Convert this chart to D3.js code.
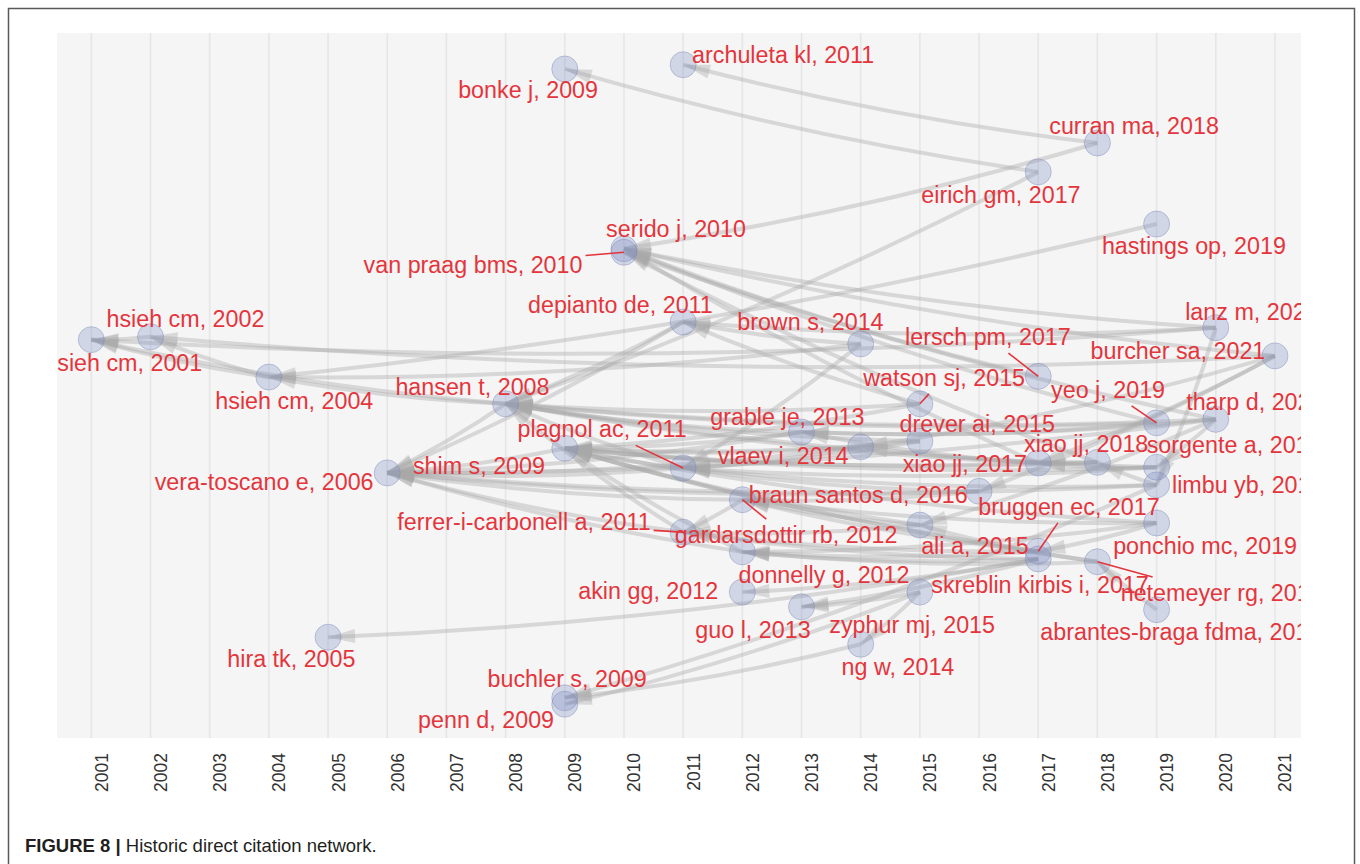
<!DOCTYPE html>
<html>
<head>
<meta charset="utf-8">
<script src="https://cdn.jsdelivr.net/npm/d3@7"></script>
<style>
  body { margin: 0; background: #fff; }
  svg { display: block; font-family: "Liberation Sans", Arial, sans-serif; }
</style>
</head>
<body>
<script>
// Papers in the historiograph (label carries the year)
var papers = [
  "hsieh cm, 2001", "hsieh cm, 2002", "hsieh cm, 2004", "hira tk, 2005", "vera-toscano e, 2006",
  "hansen t, 2008", "bonke j, 2009", "shim s, 2009", "buchler s, 2009", "penn d, 2009",
  "serido j, 2010", "van praag bms, 2010", "archuleta kl, 2011", "depianto de, 2011", "plagnol ac, 2011",
  "ferrer-i-carbonell a, 2011", "gardarsdottir rb, 2012", "donnelly g, 2012", "akin gg, 2012", "grable je, 2013",
  "guo l, 2013", "brown s, 2014", "vlaev i, 2014", "ng w, 2014", "watson sj, 2015",
  "drever ai, 2015", "ali a, 2015", "zyphur mj, 2015", "braun santos d, 2016", "eirich gm, 2017",
  "lersch pm, 2017", "xiao jj, 2017", "bruggen ec, 2017", "skreblin kirbis i, 2017", "curran ma, 2018",
  "xiao jj, 2018", "netemeyer rg, 2018", "hastings op, 2019", "yeo j, 2019", "sorgente a, 2019",
  "limbu yb, 2019", "ponchio mc, 2019", "abrantes-braga fdma, 2019", "lanz m, 2020", "tharp d, 2020",
  "burcher sa, 2021"
];

// Vertical layout coordinate of each paper (0 = bottom, 100 = top)
var layoutY = [
  56.5, 56.9, 51.2, 14.3, 37.6,
  47.4, 94.9, 41.1, 5.7, 4.8,
  69.4, 68.9, 95.5, 59.0, 38.3,
  29.2, 33.8, 26.4, 20.7, 43.4,
  18.6, 55.9, 41.3, 13.3, 47.4,
  42.1, 30.2, 20.7, 35.0, 80.3,
  51.3, 39.0, 26.5, 25.4, 84.4,
  39.1, 25.0, 72.9, 44.7, 38.4,
  35.9, 30.5, 18.2, 58.2, 45.2,
  54.2
];

// Where each (repelled) label sits: year axis and layout coordinate
var labelX = [
  2001.54, 2002.59, 2004.43, 2004.38, 2003.92,
  2007.44, 2008.38, 2007.55, 2009.04, 2007.67,
  2010.88, 2007.45, 2012.69, 2009.94, 2009.63,
  2008.31, 2012.74, 2013.38, 2010.41, 2012.76,
  2012.18, 2013.15, 2012.69, 2014.63, 2015.41,
  2015.97, 2015.93, 2014.87, 2013.96, 2016.37,
  2016.15, 2015.76, 2017.52, 2017.03, 2018.62,
  2017.81, 2020.10, 2019.63, 2018.18, 2020.31,
  2020.54, 2019.82, 2019.41, 2020.61, 2020.66,
  2019.36
];
var labelY = [
  53.2, 59.4, 47.8, 11.2, 36.3,
  49.8, 91.9, 38.6, 8.4, 2.6,
  72.2, 67.1, 96.9, 61.4, 43.8,
  30.6, 28.8, 23.1, 20.9, 45.5,
  15.3, 59.1, 40.0, 10.1, 51.1,
  44.5, 27.2, 16.0, 34.5, 77.0,
  56.9, 38.9, 32.8, 21.7, 86.9,
  41.7, 20.6, 69.8, 49.4, 41.6,
  35.9, 27.2, 15.0, 60.4, 47.7,
  54.9
];

// Labels pushed far enough from their node to get a connector
var withLeader = [
  "van praag bms, 2010", "lersch pm, 2017", "watson sj, 2015", "yeo j, 2019", "plagnol ac, 2011",
  "ferrer-i-carbonell a, 2011", "gardarsdottir rb, 2012", "bruggen ec, 2017", "netemeyer rg, 2018"
];

// Direct citations: [citing, cited]
var citations = [
  ["hsieh cm, 2002", "hsieh cm, 2001"],
  ["hsieh cm, 2004", "hsieh cm, 2001"],
  ["hsieh cm, 2004", "hsieh cm, 2002"],
  ["hansen t, 2008", "hsieh cm, 2001"],
  ["hansen t, 2008", "hsieh cm, 2004"],
  ["hansen t, 2008", "vera-toscano e, 2006"],
  ["burcher sa, 2021", "hsieh cm, 2002"],
  ["lanz m, 2020", "hsieh cm, 2001"],
  ["brown s, 2014", "hsieh cm, 2004"],
  ["hastings op, 2019", "hsieh cm, 2004"],
  ["eirich gm, 2017", "bonke j, 2009"],
  ["eirich gm, 2017", "hansen t, 2008"],
  ["curran ma, 2018", "archuleta kl, 2011"],
  ["curran ma, 2018", "serido j, 2010"],
  ["lanz m, 2020", "serido j, 2010"],
  ["burcher sa, 2021", "serido j, 2010"],
  ["lersch pm, 2017", "serido j, 2010"],
  ["yeo j, 2019", "serido j, 2010"],
  ["xiao jj, 2018", "van praag bms, 2010"],
  ["tharp d, 2020", "van praag bms, 2010"],
  ["brown s, 2014", "depianto de, 2011"],
  ["lanz m, 2020", "depianto de, 2011"],
  ["watson sj, 2015", "depianto de, 2011"],
  ["depianto de, 2011", "vera-toscano e, 2006"],
  ["depianto de, 2011", "hansen t, 2008"],
  ["shim s, 2009", "vera-toscano e, 2006"],
  ["plagnol ac, 2011", "vera-toscano e, 2006"],
  ["plagnol ac, 2011", "hansen t, 2008"],
  ["plagnol ac, 2011", "shim s, 2009"],
  ["ferrer-i-carbonell a, 2011", "vera-toscano e, 2006"],
  ["ferrer-i-carbonell a, 2011", "hansen t, 2008"],
  ["gardarsdottir rb, 2012", "vera-toscano e, 2006"],
  ["gardarsdottir rb, 2012", "ferrer-i-carbonell a, 2011"],
  ["donnelly g, 2012", "shim s, 2009"],
  ["donnelly g, 2012", "vera-toscano e, 2006"],
  ["grable je, 2013", "shim s, 2009"],
  ["grable je, 2013", "vera-toscano e, 2006"],
  ["grable je, 2013", "hansen t, 2008"],
  ["vlaev i, 2014", "plagnol ac, 2011"],
  ["vlaev i, 2014", "shim s, 2009"],
  ["vlaev i, 2014", "vera-toscano e, 2006"],
  ["brown s, 2014", "plagnol ac, 2011"],
  ["watson sj, 2015", "shim s, 2009"],
  ["watson sj, 2015", "hansen t, 2008"],
  ["drever ai, 2015", "shim s, 2009"],
  ["drever ai, 2015", "hansen t, 2008"],
  ["drever ai, 2015", "plagnol ac, 2011"],
  ["ali a, 2015", "shim s, 2009"],
  ["ali a, 2015", "gardarsdottir rb, 2012"],
  ["ali a, 2015", "ferrer-i-carbonell a, 2011"],
  ["zyphur mj, 2015", "guo l, 2013"],
  ["zyphur mj, 2015", "ng w, 2014"],
  ["zyphur mj, 2015", "penn d, 2009"],
  ["ng w, 2014", "buchler s, 2009"],
  ["braun santos d, 2016", "gardarsdottir rb, 2012"],
  ["braun santos d, 2016", "plagnol ac, 2011"],
  ["braun santos d, 2016", "vera-toscano e, 2006"],
  ["xiao jj, 2017", "shim s, 2009"],
  ["xiao jj, 2017", "hansen t, 2008"],
  ["xiao jj, 2017", "serido j, 2010"],
  ["xiao jj, 2017", "grable je, 2013"],
  ["bruggen ec, 2017", "donnelly g, 2012"],
  ["bruggen ec, 2017", "gardarsdottir rb, 2012"],
  ["bruggen ec, 2017", "shim s, 2009"],
  ["bruggen ec, 2017", "ferrer-i-carbonell a, 2011"],
  ["skreblin kirbis i, 2017", "hira tk, 2005"],
  ["skreblin kirbis i, 2017", "akin gg, 2012"],
  ["skreblin kirbis i, 2017", "donnelly g, 2012"],
  ["skreblin kirbis i, 2017", "guo l, 2013"],
  ["skreblin kirbis i, 2017", "ferrer-i-carbonell a, 2011"],
  ["xiao jj, 2018", "shim s, 2009"],
  ["xiao jj, 2018", "xiao jj, 2017"],
  ["xiao jj, 2018", "vlaev i, 2014"],
  ["netemeyer rg, 2018", "donnelly g, 2012"],
  ["netemeyer rg, 2018", "ali a, 2015"],
  ["netemeyer rg, 2018", "shim s, 2009"],
  ["yeo j, 2019", "hansen t, 2008"],
  ["yeo j, 2019", "grable je, 2013"],
  ["sorgente a, 2019", "xiao jj, 2017"],
  ["sorgente a, 2019", "shim s, 2009"],
  ["sorgente a, 2019", "plagnol ac, 2011"],
  ["sorgente a, 2019", "hansen t, 2008"],
  ["limbu yb, 2019", "xiao jj, 2018"],
  ["limbu yb, 2019", "vera-toscano e, 2006"],
  ["limbu yb, 2019", "buchler s, 2009"],
  ["limbu yb, 2019", "plagnol ac, 2011"],
  ["ponchio mc, 2019", "bruggen ec, 2017"],
  ["ponchio mc, 2019", "gardarsdottir rb, 2012"],
  ["ponchio mc, 2019", "donnelly g, 2012"],
  ["ponchio mc, 2019", "shim s, 2009"],
  ["abrantes-braga fdma, 2019", "netemeyer rg, 2018"],
  ["lanz m, 2020", "limbu yb, 2019"],
  ["tharp d, 2020", "hansen t, 2008"],
  ["tharp d, 2020", "vera-toscano e, 2006"],
  ["tharp d, 2020", "grable je, 2013"],
  ["tharp d, 2020", "sorgente a, 2019"],
  ["tharp d, 2020", "ali a, 2015"],
  ["burcher sa, 2021", "vlaev i, 2014"],
  ["burcher sa, 2021", "xiao jj, 2017"],
  ["burcher sa, 2021", "braun santos d, 2016"]
];

// Year tick labels along the bottom
var tickYears = d3.range(2001, 2022);

var caption = ["FIGURE 8 |", " Historic direct citation network."];

// ---------------------------------------------------------------------------

var width = 1360, height = 864;
var panel = {left: 57, top: 33, right: 1301, bottom: 738};

var svg = d3.select('body').append('svg')
  .attr('width', width)
  .attr('height', height);

svg.append('rect')
  .attr('x', 8.5).attr('y', 8.5)
  .attr('width', 1346).attr('height', 880)
  .attr('fill', '#fff')
  .attr('stroke', '#5a5a5a')
  .attr('stroke-width', 1.5);

var x = d3.scaleLinear().domain([2000.42, 2021.44]).range([panel.left, panel.right]);
var y = d3.scaleLinear().domain([0, 100]).range([panel.bottom, panel.top]);

svg.append('defs').append('clipPath')
  .attr('id', 'panel-clip')
  .append('rect')
  .attr('x', panel.left).attr('y', panel.top)
  .attr('width', panel.right - panel.left)
  .attr('height', panel.bottom - panel.top);

// Panel background and vertical year grid
svg.append('rect')
  .attr('x', panel.left).attr('y', panel.top)
  .attr('width', panel.right - panel.left)
  .attr('height', panel.bottom - panel.top)
  .attr('fill', '#f5f5f5');

svg.append('g').selectAll('line')
  .data(tickYears)
  .enter().append('line')
  .attr('x1', function(d) { return x(d); })
  .attr('x2', function(d) { return x(d); })
  .attr('y1', panel.top)
  .attr('y2', panel.bottom)
  .attr('stroke', '#e6e6e6')
  .attr('stroke-width', 1.6);

// Axis with rotated year labels
var axis = svg.append('g')
  .attr('transform', 'translate(0,' + panel.bottom + ')')
  .call(d3.axisBottom(x).tickValues(tickYears).tickSize(0).tickFormat(d3.format('d')));
axis.select('.domain').remove();
axis.selectAll('text')
  .attr('transform', 'rotate(-90)')
  .attr('x', -15)
  .attr('y', 16)
  .attr('dy', 0)
  .style('text-anchor', 'end')
  .style('font-family', '"Liberation Sans", Arial, sans-serif')
  .style('font-size', '17.5px')
  .attr('fill', '#333');

// Node lookup
var byName = new Map(papers.map(function(p, i) { return [p, i]; }));
function yearOf(i) { return +papers[i].slice(-4); }
function nodeX(i) { return x(yearOf(i)); }
function nodeY(i) { return y(layoutY[i]); }

var plot = svg.append('g').attr('clip-path', 'url(#panel-clip)');

// Edges: slightly bent arcs with a closed arrow on the cited paper
var bend = 0.035, arrowLen = 27, arrowHalf = 7;
var links = citations.map(function(c) {
  var s = byName.get(c[0]), t = byName.get(c[1]);
  var sx = nodeX(s), sy = nodeY(s), tx = nodeX(t), ty = nodeY(t);
  var dx = tx - sx, dy = ty - sy;
  var cx = (sx + tx) / 2 + bend * dy, cy = (sy + ty) / 2 - bend * dx;
  var ux = tx - cx, uy = ty - cy, len = Math.sqrt(ux * ux + uy * uy);
  ux /= len; uy /= len;
  var bx = tx - arrowLen * ux, by = ty - arrowLen * uy;
  var p = d3.path();
  p.moveTo(sx, sy);
  p.quadraticCurveTo(cx, cy, tx, ty);
  return {
    curve: p.toString(),
    head: [[tx, ty], [bx - arrowHalf * uy, by + arrowHalf * ux], [bx + arrowHalf * uy, by - arrowHalf * ux]]
  };
});

var edgeGroup = plot.append('g').attr('class', 'edges');
edgeGroup.selectAll('path.edge')
  .data(links)
  .enter().append('path')
  .attr('class', 'edge')
  .attr('d', function(d) { return d.curve; })
  .attr('fill', 'none')
  .attr('stroke', '#a9a9a9')
  .attr('stroke-opacity', 0.4)
  .attr('stroke-width', 4);

edgeGroup.selectAll('path.head')
  .data(links)
  .enter().append('path')
  .attr('class', 'head')
  .attr('d', function(d) { return 'M' + d.head.join('L') + 'Z'; })
  .attr('fill', '#a9a9a9')
  .attr('fill-opacity', 0.38);

// Nodes
plot.append('g').selectAll('circle')
  .data(papers)
  .enter().append('circle')
  .attr('cx', function(d, i) { return nodeX(i); })
  .attr('cy', function(d, i) { return nodeY(i); })
  .attr('r', 13)
  .attr('fill', '#7f8fc2')
  .attr('fill-opacity', 0.3)
  .attr('stroke', '#7f8ab5')
  .attr('stroke-opacity', 0.45)
  .attr('stroke-width', 1);

// Labels
var red = '#e4353d';
var labelGroup = plot.append('g').attr('class', 'labels');
var labels = labelGroup.selectAll('text')
  .data(papers)
  .enter().append('text')
  .attr('x', function(d, i) { return x(labelX[i]); })
  .attr('y', function(d, i) { return y(labelY[i]); })
  .attr('dy', '0.35em')
  .attr('text-anchor', 'middle')
  .attr('fill', red)
  .style('font-size', '23.3px')
  .text(function(d) { return d; });

// Connector segments from label box edge to its node
labels.each(function(d, i) {
  if (withLeader.indexOf(d) < 0) return;
  var b = this.getBBox();
  // only the part of the box inside the panel counts
  var x0 = Math.max(b.x, panel.left), x1 = Math.min(b.x + b.width, panel.right);
  var cx = (x0 + x1) / 2, cy = b.y + b.height / 2;
  var px = nodeX(i), py = nodeY(i);
  var dx = px - cx, dy = py - cy;
  var hw = (x1 - x0) / 2 + 3, hh = b.height / 2 + 3;
  var t = Math.min(dx ? hw / Math.abs(dx) : Infinity, dy ? hh / Math.abs(dy) : Infinity);
  labelGroup.append('line')
    .attr('x1', cx + t * dx).attr('y1', cy + t * dy)
    .attr('x2', px).attr('y2', py)
    .attr('stroke', red)
    .attr('stroke-width', 1.6);
});

// Caption
var cap = svg.append('text')
  .attr('x', 25)
  .attr('y', 852)
  .attr('fill', '#231f20')
  .style('font-size', '18.5px');
cap.append('tspan').attr('font-weight', 'bold').text(caption[0]);
cap.append('tspan').text(caption[1]);
</script>
</body>
</html>
